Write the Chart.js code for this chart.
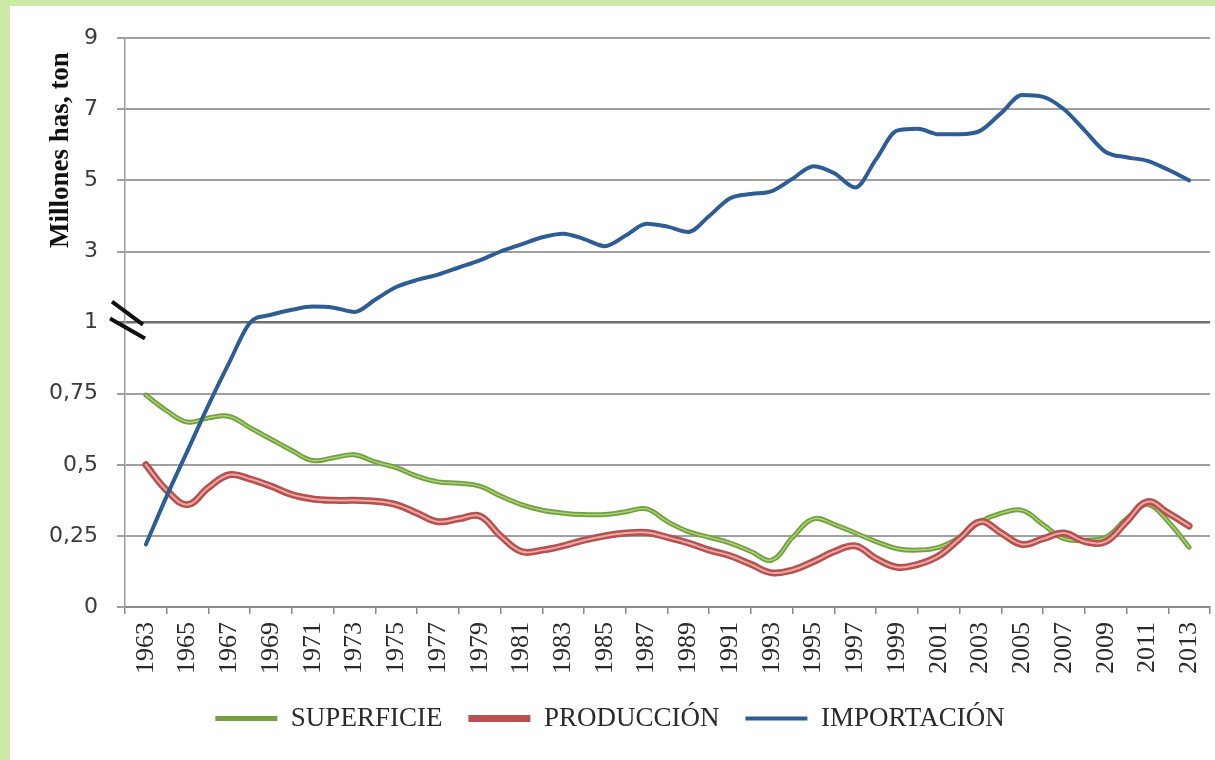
<!DOCTYPE html>
<html>
<head>
<meta charset="utf-8">
<script src="https://cdn.jsdelivr.net/npm/chart.js@4.4.1/dist/chart.umd.min.js"></script>
<style>
html, body { margin: 0; padding: 0; background: #cdeaa6; }
#wrap { position: absolute; left: 10px; top: 6px; width: 1205px; height: 754px; background: #fff; }
</style>
</head>
<body>
<div id="wrap"><canvas id="chart" width="1205" height="754"></canvas></div>
<script>
const years = [1963, 1964, 1965, 1966, 1967, 1968, 1969, 1970, 1971, 1972,
    1973, 1974, 1975, 1976, 1977, 1978, 1979, 1980, 1981, 1982,
    1983, 1984, 1985, 1986, 1987, 1988, 1989, 1990, 1991, 1992,
    1993, 1994, 1995, 1996, 1997, 1998, 1999, 2000, 2001, 2002,
    2003, 2004, 2005, 2006, 2007, 2008, 2009, 2010, 2011, 2012, 2013];

// millones de has
const superficie = [0.745, 0.69, 0.65, 0.665, 0.67, 0.63, 0.59, 0.55, 0.515, 0.525,
    0.535, 0.51, 0.49, 0.46, 0.44, 0.435, 0.425, 0.39, 0.36, 0.34,
    0.33, 0.325, 0.325, 0.335, 0.345, 0.30, 0.265, 0.245, 0.225, 0.195,
    0.165, 0.245, 0.31, 0.29, 0.26, 0.23, 0.205, 0.20, 0.21, 0.245,
    0.30, 0.33, 0.34, 0.29, 0.24, 0.235, 0.245, 0.31, 0.36, 0.30, 0.21];

// millones de ton
const produccion = [0.50, 0.41, 0.36, 0.42, 0.465, 0.45, 0.425, 0.395, 0.38, 0.375,
    0.375, 0.372, 0.36, 0.33, 0.30, 0.31, 0.32, 0.25, 0.195, 0.20,
    0.215, 0.235, 0.25, 0.26, 0.262, 0.245, 0.225, 0.20, 0.18, 0.15,
    0.12, 0.13, 0.16, 0.195, 0.215, 0.17, 0.14, 0.15, 0.18, 0.24,
    0.30, 0.26, 0.22, 0.24, 0.26, 0.23, 0.23, 0.30, 0.37, 0.33, 0.285];

const importacion = [0.22, 0.39, 0.55, 0.71, 0.86, 1.0, 1.22, 1.36, 1.45, 1.42,
    1.30, 1.65, 2.0, 2.2, 2.35, 2.55, 2.75, 3.0, 3.2, 3.4,
    3.5, 3.35, 3.15, 3.45, 3.78, 3.7, 3.55, 4.0, 4.5, 4.62,
    4.7, 5.05, 5.4, 5.2, 4.8, 5.6, 6.4, 6.45, 6.3, 6.3,
    6.4, 6.9, 7.4, 7.35, 7.0, 6.4, 5.8, 5.65, 5.55, 5.3, 5.0];

const yTickLabels = ['0', '0,25', '0,5', '0,75', '1', '3', '5', '7', '9'];

// broken axis: 0..1 in steps of 0.25, then 1..9 in steps of 2, same spacing
function toPos(v) {
    return v <= 1 ? v * 4 : 4 + (v - 1) / 2;
}
function points(values) {
    return years.map((yr, i) => ({ x: yr, y: toPos(values[i]) }));
}

const axisExtras = {
    id: 'axisExtras',
    afterDraw(chart) {
        const ctx = chart.ctx;
        const x0 = chart.chartArea.left;
        const y0 = chart.scales.y.getPixelForValue(4);

        // break marks
        ctx.save();
        ctx.strokeStyle = '#111';
        ctx.lineWidth = 4;
        ctx.beginPath();
        ctx.moveTo(x0 - 13, y0 - 21); ctx.lineTo(x0 + 18, y0 + 2);
        ctx.moveTo(x0 - 15, y0 - 4); ctx.lineTo(x0 + 20, y0 + 16);
        ctx.stroke();
        ctx.restore();

        // y title, placed on the upper part of the axis
        ctx.save();
        ctx.translate(51, 144);
        ctx.rotate(-Math.PI / 2);
        ctx.font = 'bold 27px "Liberation Serif"';
        ctx.fillStyle = '#111';
        ctx.textAlign = 'center';
        ctx.textBaseline = 'middle';
        ctx.fillText('Millones has, ton', 0, 0);
        ctx.restore();
    }
};

const lineBase = { pointRadius: 0, fill: false, tension: 0.4, borderCapStyle: 'round', borderJoinStyle: 'round' };

new Chart(document.getElementById('chart'), {
    type: 'line',
    data: {
        datasets: [
            { ...lineBase, label: 'SUPERFICIE', data: points(superficie), borderColor: '#73a03c', backgroundColor: '#73a03c', borderWidth: 5, order: 4 },
            { ...lineBase, label: 'sup', inner: true, data: points(superficie), borderColor: '#a9d27a', borderWidth: 1.5, order: 3 },
            { ...lineBase, label: 'PRODUCCIÓN', data: points(produccion), borderColor: '#b8504e', backgroundColor: '#b8504e', borderWidth: 7, order: 2 },
            { ...lineBase, label: 'prod', inner: true, data: points(produccion), borderColor: '#e9aaa8', borderWidth: 2, order: 1 },
            { ...lineBase, label: 'IMPORTACIÓN', data: points(importacion), borderColor: '#2e5d96', backgroundColor: '#2e5d96', borderWidth: 4, cubicInterpolationMode: 'monotone', order: 0 }
        ]
    },
    options: {
        responsive: false,
        animation: false,
        layout: { padding: { left: 0, right: 5, top: 32, bottom: 18 } },
        plugins: {
            tooltip: { enabled: false },
            legend: {
                position: 'bottom',
                labels: {
                    usePointStyle: true,
                    pointStyle: 'line',
                    pointStyleWidth: 62,
                    padding: 26,
                    color: '#2a2a2a',
                    font: { family: '"Liberation Serif"', size: 27 },
                    filter: (item, data) => !data.datasets[item.datasetIndex].inner,
                    sort: (a, b) => a.datasetIndex - b.datasetIndex
                }
            }
        },
        scales: {
            x: {
                type: 'linear',
                min: 1962,
                max: 2014,
                afterFit: s => { s.height = 72; s.paddingLeft = 0; s.paddingRight = 0; },
                ticks: {
                    stepSize: 1,
                    autoSkip: false,
                    minRotation: 90,
                    maxRotation: 90,
                    padding: 8,
                    color: '#2a2a2a',
                    font: { family: '"Liberation Serif"', size: 26 },
                    callback: v => (v % 2 === 1 ? String(v) : '')
                },
                grid: {
                    drawOnChartArea: false,
                    tickLength: 7,
                    lineWidth: 1.5,
                    tickColor: c => (c.tick && c.tick.value % 2 === 0 ? '#888' : 'rgba(0,0,0,0)')
                },
                border: { color: '#8a8a8a', width: 2 }
            },
            y: {
                min: 0,
                max: 8,
                afterFit: s => { s.width = 115; },
                ticks: {
                    stepSize: 1,
                    padding: 19,
                    color: '#3a3a3a',
                    font: { family: '"DejaVu Sans"', size: 22 },
                    callback: v => yTickLabels[v]
                },
                grid: {
                    tickLength: 8,
                    color: c => (c.tick && c.tick.value === 4 ? '#6e6e6e' : '#a0a0a0'),
                    lineWidth: c => (c.tick && c.tick.value === 4 ? 2.5 : 2)
                },
                border: { color: '#9a9a9a', width: 1.5 }
            }
        }
    },
    plugins: [axisExtras]
});
</script>
</body>
</html>
